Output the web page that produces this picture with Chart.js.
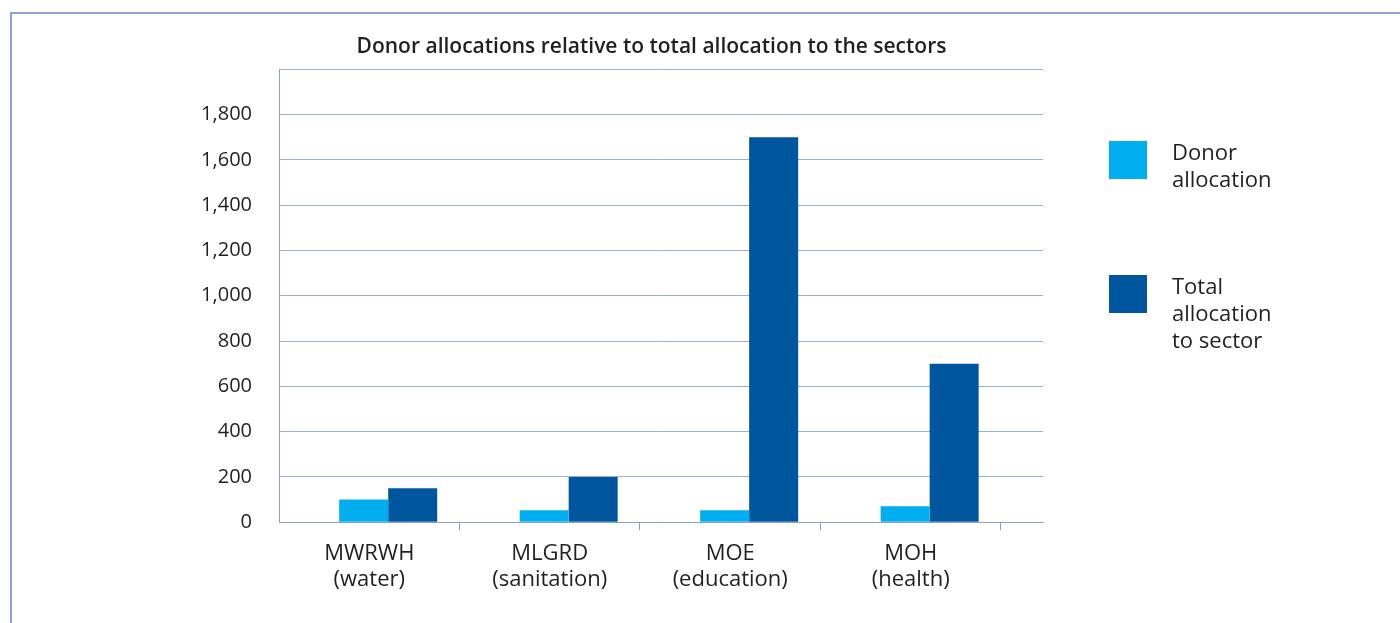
<!DOCTYPE html>
<html>
<head>
<meta charset="utf-8">
<script src="https://cdn.jsdelivr.net/npm/chart.js@4.4.1/dist/chart.umd.min.js"></script>
<style>
  html, body { margin: 0; padding: 0; background: #fff; width: 1400px; height: 623px; overflow: hidden; }
  body { font-family: "Open Sans", sans-serif; color: #231f20; }
  #frame { position: absolute; left: 10px; top: 12px; width: 1400px; height: 700px; border: 2px solid #8da3d5; box-sizing: border-box; }
  #wrap { position: absolute; left: 0; top: 0; width: 1303px; height: 623px; }
  #legend { position: absolute; left: 1109px; top: 138px; }
  .item { position: absolute; left: 0; display: flex; align-items: flex-start; }
  .box { width: 38px; height: 38px; margin-top: 3px; flex: none; }
  .txt { margin-left: 25px; width: 112px; font-size: 22px; font-weight: 500; line-height: 27px; }
</style>
</head>
<body>
<div id="frame"></div>
<div id="wrap"><canvas id="myChart"></canvas></div>
<div id="legend"></div>
<script>
const categories = [
  ["MWRWH", "(water)"],
  ["MLGRD", "(sanitation)"],
  ["MOE", "(education)"],
  ["MOH", "(health)"],
];
const seriesNames = ["Donor allocation", "Total allocation to sector"];
const donorAllocation = [100, 53, 53, 70];
const totalAllocation = [150, 200, 1700, 700];
const seriesColors = ["#00aeef", "#00559f"];
const yMax = 2000;
const yStep = 200;

const textColor = "#231f20";
const gridColor = "#9badd9";
const axisColor = "#8a9fd0";
const fontFamily = "'Open Sans', sans-serif";

// plot area runs a bit past the last category, like the original
const xMax = 4.233;

function points(values) {
  return values.map((v, i) => ({ x: i + 0.5, y: v }));
}

var ctx = document.getElementById("myChart").getContext("2d");
var chart = new Chart(ctx, {
  type: "bar",
  data: {
    datasets: [
      {
        label: seriesNames[0],
        data: points(donorAllocation),
        backgroundColor: seriesColors[0],
        xAxisID: "xb",
      },
      {
        label: seriesNames[1],
        data: points(totalAllocation),
        backgroundColor: seriesColors[1],
        xAxisID: "xb",
      },
    ],
  },
  options: {
    animation: false,
    responsive: true,
    maintainAspectRatio: false,
    categoryPercentage: 0.543,
    barPercentage: 1,
    layout: { padding: { bottom: 20 } },
    plugins: {
      legend: { display: false },
      tooltip: { enabled: false },
      title: {
        display: true,
        text: "Donor allocations relative to total allocation to the sectors",
        color: textColor,
        font: { family: fontFamily, size: 21, weight: 600 },
        padding: { top: 34, bottom: 10 },
      },
    },
    scales: {
      // bars sit slightly right of the category centre in the original
      xb: {
        type: "linear",
        display: false,
        offset: false,
        grid: { offset: false },
        min: -0.105,
        max: xMax - 0.105,
        ticks: { stepSize: 1 },
      },
      x: {
        type: "linear",
        position: "bottom",
        offset: false,
        min: 0,
        max: xMax,
        afterBuildTicks: (scale) => {
          const t = [];
          for (let i = 0; i <= categories.length * 2; i++) t.push({ value: i / 2 });
          scale.ticks = t;
        },
        grid: {
          offset: false,
          drawOnChartArea: false,
          tickLength: 8,
          tickColor: (c) =>
            c.tick && c.tick.value > 0 && Number.isInteger(c.tick.value) ? axisColor : "rgba(0,0,0,0)",
        },
        border: { color: axisColor, width: 1 },
        ticks: {
          autoSkip: false,
          maxRotation: 0,
          minRotation: 0,
          padding: 10,
          color: textColor,
          font: { family: fontFamily, size: 22, weight: 500 },
          callback: (v) => (Number.isInteger(v) ? "" : categories[Math.floor(v)]),
        },
      },
      y: {
        min: 0,
        max: yMax,
        afterFit: (scale) => {
          scale.width = 279;
        },
        grid: { color: gridColor, drawTicks: false },
        border: { color: axisColor },
        ticks: {
          stepSize: yStep,
          padding: 27,
          color: textColor,
          font: { family: fontFamily, size: 20, weight: 500 },
          callback: (v) => (v === yMax ? "" : v.toLocaleString("en-US")),
        },
      },
      spacer: {
        type: "linear",
        position: "right",
        grid: { display: false },
        border: { display: false },
        ticks: { display: false },
        afterFit: (scale) => {
          scale.width = 260;
        },
      },
    },
  },
});

// legend, built from the series
var legend = document.getElementById("legend");
var legendTops = [0, 134];
seriesNames.forEach((name, i) => {
  var item = document.createElement("div");
  item.className = "item";
  item.style.top = legendTops[i] + "px";
  item.innerHTML =
    '<div class="box" style="background:' + seriesColors[i] + '"></div><div class="txt">' + name + "</div>";
  legend.appendChild(item);
});
</script>
</body>
</html>
